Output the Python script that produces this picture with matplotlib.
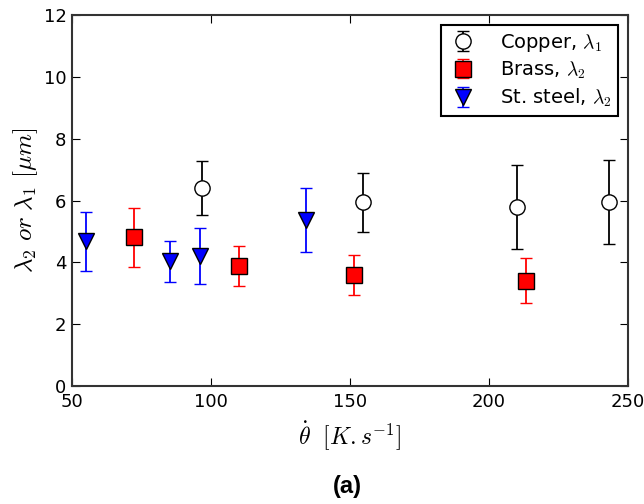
import matplotlib
matplotlib.use('Agg')
import matplotlib.pyplot as plt
import numpy as np

plt.rcParams['mathtext.fontset'] = 'cm'
plt.rcParams['font.family'] = 'DejaVu Sans'

# cooling rate [K/s] and spacing [um] with lower/upper error
copper_x = [96.6, 154.8, 210.0, 243.3]
copper_y = [6.40, 5.94, 5.78, 5.95]
copper_lo = [0.87, 0.97, 1.36, 1.36]
copper_hi = [0.88, 0.96, 1.36, 1.37]

brass_x = [72.4, 110.2, 151.4, 213.3]
brass_y = [4.81, 3.89, 3.58, 3.40]
brass_lo = [0.97, 0.64, 0.64, 0.72]
brass_hi = [0.96, 0.65, 0.65, 0.73]

steel_x = [55.0, 85.3, 96.0, 134.2]
steel_y = [4.70, 4.05, 4.22, 5.37]
steel_lo = [0.97, 0.69, 0.93, 1.04]
steel_hi = [0.93, 0.64, 0.89, 1.03]

fig = plt.figure(figsize=(6.44, 5.04), dpi=100)
ax = fig.add_axes([0.112, 0.234, 0.863, 0.736])

ax.errorbar(copper_x, copper_y, yerr=[copper_lo, copper_hi], fmt='o', color='black',
            mfc='white', mec='black', ms=11, capsize=4, elinewidth=1.3, mew=1,
            label=r'Copper, $\lambda_1$')
ax.errorbar(brass_x, brass_y, yerr=[brass_lo, brass_hi], fmt='s', color='red',
            mfc='red', mec='black', ms=11, capsize=4, elinewidth=1.3, mew=1,
            label=r'Brass, $\lambda_2$')
ax.errorbar(steel_x, steel_y, yerr=[steel_lo, steel_hi], fmt='v', color='blue',
            mfc='blue', mec='black', ms=12, capsize=4, elinewidth=1.3, mew=1,
            label=r'St. steel, $\lambda_2$')

ax.set_xlim(50, 250)
ax.set_ylim(0, 12)
ax.set_xticks([50, 100, 150, 200, 250])
ax.set_yticks([0, 2, 4, 6, 8, 10, 12])
ax.tick_params(direction='in', top=True, right=True, labelsize=13, length=6, pad=5)
ax.tick_params(axis='y', pad=4)
for s in ax.spines.values():
    s.set_linewidth(1.5)
    s.set_color('#333333')

ax.set_xlabel(r'$\dot{\theta}\ \ [K.s^{-1}]$', fontsize=17, labelpad=6)
ax.set_ylabel(r'$\lambda_2\ or\ \lambda_1\ [\mu m]$', fontsize=18, labelpad=3)

leg = ax.legend(loc='upper right', numpoints=1, fontsize=14, fancybox=False,
                frameon=True, framealpha=1, edgecolor='black', borderpad=0.35,
                labelspacing=0.3, handlelength=1.6, handletextpad=1.1,
                borderaxespad=0.5)
leg.get_frame().set_linewidth(1.5)

fig.text(0.54, 0.034, '(a)', fontsize=17, fontweight='bold',
         family='Liberation Sans', ha='center', va='center')

fig.savefig('out.png', dpi=100, facecolor='white')
